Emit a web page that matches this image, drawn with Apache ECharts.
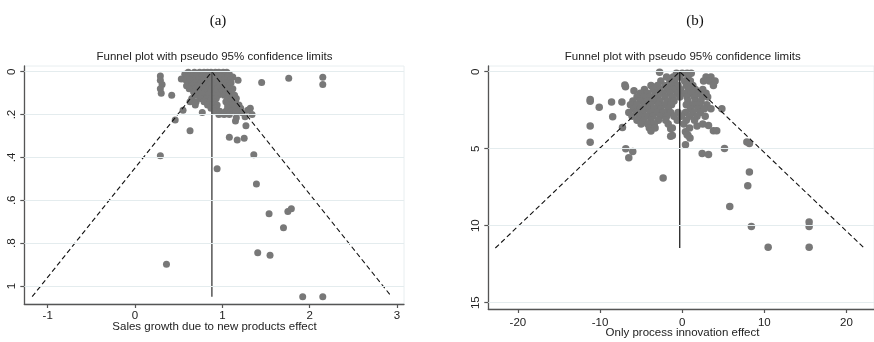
<!DOCTYPE html>
<html><head><meta charset="utf-8">
<script src="https://cdn.jsdelivr.net/npm/echarts@6/dist/echarts.min.js"></script>
<style>html,body{margin:0;padding:0;background:#fff}#c{width:874px;height:342px}</style>
</head><body><div id="c"></div>
<script>
// ---------- Panel (a): Sales growth due to new products effect ----------
const panelATitle = "Funnel plot with pseudo 95% confidence limits";
const panelAXName = "Sales growth due to new products effect";
const panelAXTicks = [-1, 0, 1, 2, 3];
const panelAYTicks = [0, 0.2, 0.4, 0.6, 0.8, 1];
const panelAYLabels = ["0", ".2", ".4", ".6", ".8", "1"];
const panelAPooled = 0.88;      // pooled effect (apex of funnel)
const panelASEMax = 1.05;       // largest standard error shown
const panelAOutliers = [
  [0.29,0.02],[0.29,0.04],[0.31,0.06],[0.29,0.08],[0.30,0.10],[0.42,0.11],[0.53,0.034],
  [0.55,0.18],[0.46,0.225],[0.63,0.276],[0.77,0.19],[0.29,0.392],[0.36,0.899],[0.94,0.453],
  [1.08,0.306],[1.17,0.319],[1.25,0.311],[1.27,0.252],[1.36,0.387],[1.39,0.524],[1.535,0.663],
  [1.75,0.652],[1.79,0.639],[1.70,0.728],[1.405,0.845],[1.546,0.857],[1.92,1.05],[2.15,1.05],
  [2.15,0.026],[2.15,0.06],[1.76,0.031],[1.45,0.05],[1.18,0.04],[1.34,0.2],[1.32,0.17],
  [1.29,0.18],[1.26,0.21],[1.15,0.23],[1.16,0.215],[1.22,0.19]
];
const panelAClusterRows = [
  [0.003, [0.61,0.68,0.74,0.79,0.83,0.87,0.92,0.96,1.01,1.05]],
  [0.012, [0.57,0.64,0.71,0.77,0.85,0.90,0.98,1.03,1.08]],
  [0.025, [0.60,0.66,0.70,0.76,0.81,0.88,0.93,0.99,1.06,1.12]],
  [0.038, [0.58,0.63,0.73,0.79,0.85,0.91,0.96,1.02,1.09]],
  [0.052, [0.61,0.68,0.75,0.82,0.87,0.94,1.00,1.05,1.10]],
  [0.066, [0.59,0.65,0.72,0.78,0.84,0.90,0.97,1.03,1.08]],
  [0.080, [0.62,0.70,0.76,0.81,0.88,0.95,1.01,1.07,1.12]],
  [0.095, [0.67,0.73,0.80,0.86,0.92,0.99,1.04,1.10]],
  [0.110, [0.71,0.78,0.84,0.90,0.95,1.02,1.08,1.14]],
  [0.125, [0.65,0.75,0.82,0.88,0.93,1.06,1.11,1.16]],
  [0.140, [0.63,0.70,0.79,0.86,0.91,1.04,1.09,1.15]],
  [0.155, [0.69,0.83,0.89,0.94,1.06,1.12,1.19]],
  [0.170, [0.87,0.93,1.06,1.14,1.21]],
  [0.185, [0.91,0.97,1.04,1.10,1.16]],
  [0.200, [0.96,1.02,1.08]]
];

// ---------- Panel (b): Only process innovation effect ----------
const panelBTitle = "Funnel plot with pseudo 95% confidence limits";
const panelBXName = "Only process innovation effect";
const panelBXTicks = [-20, -10, 0, 10, 20];
const panelBYTicks = [0, 5, 10, 15];
const panelBYLabels = ["0", "5", "10", "15"];
const panelBPooled = -0.3;
const panelBSEMax = 11.45;
const panelBOutliers = [
  [-11.2,1.8],[-11.2,1.92],[-11.2,3.53],[-11.2,4.58],[-10.1,2.31],[-8.6,1.97],[-8.46,2.92],
  [-7.34,1.97],[-7.27,3.63],[-6.98,0.86],[-6.9,0.97],[-6.87,5.0],[-6.02,5.19],[-6.5,5.58],
  [-5.87,1.23],[-2.32,6.9],[-2.75,0.04],[-1.4,4.19],[-1.2,4.15],[0.7,4.13],[0.95,4.3],[0.4,4.74],
  [2.43,5.32],[3.2,5.37],[4.83,2.4],[5.15,4.98],[7.87,4.57],[8.18,4.67],[8.18,6.51],
  [7.98,7.4],[5.79,8.76],[8.42,10.06],[15.45,9.76],[15.45,10.06],[15.45,11.4],[10.46,11.4],
  [3.8,3.83],[4.2,3.83],[3.2,3.5],[1.8,3.53],[0.4,3.9],[0.6,4.1],[-1.4,3.7]
];
const panelBClusterRows = [
  [0.10, [-0.7,0.0,0.6,1.1]],
  [0.35, [-1.9,-1.1,-0.3,0.7,2.9,3.5]],
  [0.60, [-2.6,-1.5,-0.9,0.3,1.0,2.6,3.3,4.0]],
  [0.90, [-3.8,-3.0,-2.1,-1.3,-0.5,0.5,1.3,3.8]],
  [1.15, [-4.6,-3.5,-2.7,-1.8,-1.0,-0.2,0.8,1.6,2.5]],
  [1.40, [-5.1,-4.2,-3.3,-2.4,-1.5,-0.6,0.3,1.1,2.0,2.9]],
  [1.65, [-5.5,-4.7,-3.9,-3.0,-2.1,-1.2,-0.3,0.6,1.5,2.4,3.1]],
  [1.90, [-6.0,-5.1,-4.3,-3.5,-2.7,-1.8,-1.0,0.7,1.6,2.3]],
  [2.15, [-6.3,-5.5,-4.6,-3.8,-2.9,-2.1,-1.3,0.5,1.3,2.1,3.0]],
  [2.40, [-5.9,-5.1,-4.2,-3.4,-2.6,-1.7,1.0,1.9,2.7,3.5]],
  [2.65, [-6.5,-5.6,-4.8,-3.9,-3.1,-2.3,-1.4,-0.5,0.4,1.3,2.2]],
  [2.90, [-6.1,-5.2,-4.4,-3.6,-2.7,-1.9,-1.0,-0.1,0.9,1.8,2.8]],
  [3.15, [-5.5,-4.7,-3.8,-2.9,-2.0,-0.6,0.5,1.5]],
  [3.40, [-5.0,-4.2,-3.4,-1.7,0.2,2.5]],
  [3.65, [-4.0,-3.3,-1.2,0.9]],
  [3.85, [-3.8]]
];

// ---------- build ----------
function rowsToPoints(rows){ const out=[]; rows.forEach(r=>r[1].forEach(x=>out.push([x,r[0]]))); return out; }
function funnel(pooled, se){ return [[pooled-1.96*se, se],[pooled,0],[pooled+1.96*se, se]]; }
function vline(pooled, se){ return [[pooled,0],[pooled,se]]; }

const ptsA = panelAOutliers.concat(rowsToPoints(panelAClusterRows));
const ptsB = panelBOutliers.concat(rowsToPoints(panelBClusterRows));

const FONT = 'Liberation Sans, Arial, sans-serif';
const axisColor = '#555';
const dotColor = '#787878';
const gridLineColor = '#e4ecee';

function xAxisCfg(gi, min, max, ticks, margin){
  return {gridIndex:gi, type:'value', min:min, max:max,
    axisLine:{show:true, onZero:false, lineStyle:{color:axisColor, width:1.3}},
    axisTick:{show:true, length:4, customValues:ticks, lineStyle:{color:axisColor, width:1.2}},
    axisLabel:{customValues:ticks, margin:margin, fontFamily:FONT, fontSize:11.5, color:'#222',
      formatter:v=>String(v)},
    splitLine:{show:false}};
}
function yAxisCfg(gi, min, max, ticks, labels, margin){
  return {gridIndex:gi, type:'value', inverse:true, min:min, max:max,
    axisLine:{show:true, onZero:false, lineStyle:{color:axisColor, width:1.3}},
    axisTick:{show:true, length:4, customValues:ticks, lineStyle:{color:axisColor, width:1.2}},
    axisLabel:{customValues:ticks, rotate:90, margin:margin, fontFamily:FONT, fontSize:11.5, color:'#222',
      formatter:v=>{const i=ticks.findIndex(t=>Math.abs(t-v)<1e-9); return i>=0?labels[i]:'';}},
    splitLine:{show:false}};
}
function gridLines(idx, ticks){
  return {type:'scatter', xAxisIndex:idx, yAxisIndex:idx, data:[], z:0, silent:true,
    markLine:{silent:true, symbol:'none', label:{show:false}, animation:false,
      lineStyle:{color:gridLineColor, type:'solid', width:1},
      emphasis:{disabled:true},
      data: ticks.map(t=>({yAxis:t}))}};
}

const option = {
  animation:false,
  backgroundColor:'#fff',
  grid:[
    {left:24.3, top:66, width:379.7, height:238, show:true, borderColor:'#e8eef0', borderWidth:1, backgroundColor:'#fff'},
    {left:488.3, top:66, width:392, height:243, show:true, borderColor:'#e8eef0', borderWidth:1, backgroundColor:'#fff'}
  ],
  xAxis:[
    xAxisCfg(0, -1.268, 3.08, panelAXTicks, 6),
    xAxisCfg(1, -23.6, 23.345, panelBXTicks, 8)
  ],
  yAxis:[
    yAxisCfg(0, -0.0266, 1.084, panelAYTicks, panelAYLabels, 6),
    yAxisCfg(1, -0.37, 15.41, panelBYTicks, panelBYLabels, 6)
  ],
  graphic:[
    {type:'text', x:218, y:21, style:{text:'(a)', font:'15px "Liberation Serif", "Times New Roman", serif', fill:'#111', textAlign:'center', textVerticalAlign:'middle'}},
    {type:'text', x:695, y:21, style:{text:'(b)', font:'15px "Liberation Serif", "Times New Roman", serif', fill:'#111', textAlign:'center', textVerticalAlign:'middle'}},
    {type:'text', x:214.5, y:57, style:{text:panelATitle, font:'11.5px "Liberation Sans", Arial, sans-serif', fill:'#222', textAlign:'center', textVerticalAlign:'middle'}},
    {type:'text', x:682.7, y:57.3, style:{text:panelBTitle, font:'11.5px "Liberation Sans", Arial, sans-serif', fill:'#222', textAlign:'center', textVerticalAlign:'middle'}},
    {type:'text', x:214.5, y:327.3, style:{text:panelAXName, font:'11.5px "Liberation Sans", Arial, sans-serif', fill:'#222', textAlign:'center', textVerticalAlign:'middle'}},
    {type:'text', x:682.5, y:333.3, style:{text:panelBXName, font:'11.5px "Liberation Sans", Arial, sans-serif', fill:'#222', textAlign:'center', textVerticalAlign:'middle'}}
  ],
  series:[
    gridLines(0, panelAYTicks),
    gridLines(1, panelBYTicks),
    {type:'scatter', xAxisIndex:0, yAxisIndex:0, data:ptsA, symbolSize:7, z:2,
      itemStyle:{color:dotColor, opacity:1}, silent:true},
    {type:'scatter', xAxisIndex:1, yAxisIndex:1, data:ptsB, symbolSize:7.5, z:2,
      itemStyle:{color:dotColor, opacity:1}, silent:true},
    {type:'line', xAxisIndex:0, yAxisIndex:0, data:funnel(panelAPooled, panelASEMax), symbol:'none', z:3,
      lineStyle:{color:'#111', width:1.1, type:[5,3]}, silent:true},
    {type:'line', xAxisIndex:0, yAxisIndex:0, data:vline(panelAPooled, panelASEMax), symbol:'none', z:3,
      lineStyle:{color:'#555', width:1.5}, silent:true},
    {type:'line', xAxisIndex:1, yAxisIndex:1, data:funnel(panelBPooled, panelBSEMax), symbol:'none', z:3,
      lineStyle:{color:'#111', width:1.1, type:[5,3]}, silent:true},
    {type:'line', xAxisIndex:1, yAxisIndex:1, data:vline(panelBPooled, panelBSEMax), symbol:'none', z:3,
      lineStyle:{color:'#222', width:1.3}, silent:true}
  ]
};
const chart = echarts.init(document.getElementById('c'), null, {renderer:'canvas'});
chart.setOption(option);
</script></body></html>
